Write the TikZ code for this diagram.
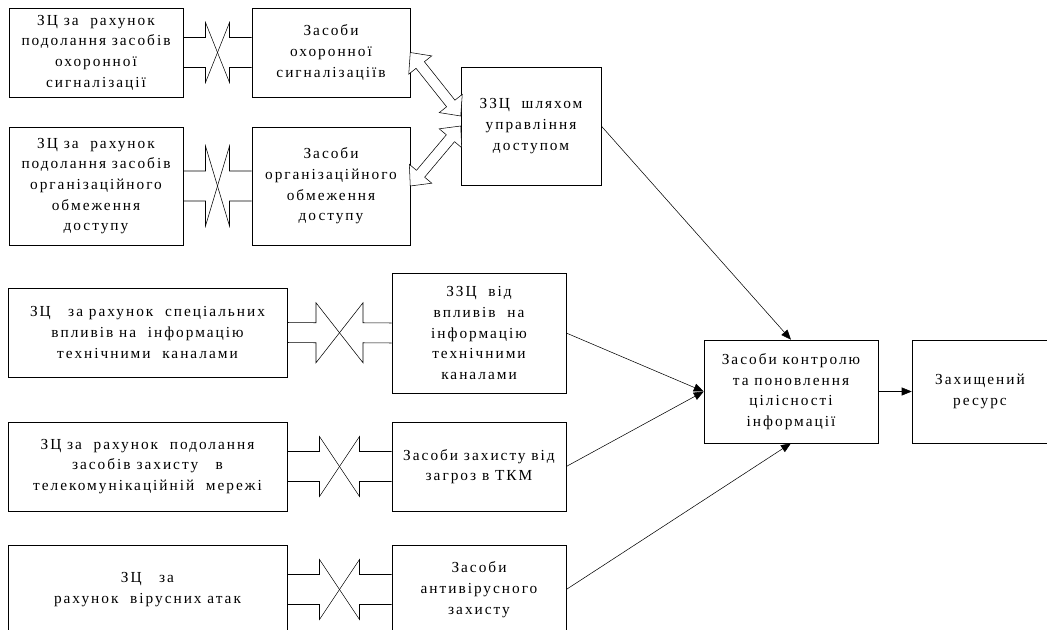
\documentclass[tikz,border=0pt]{standalone}
\usepackage{fontspec}
\setmainfont{Liberation Serif}[LetterSpace=13]
\usepackage{tikz}
\usetikzlibrary{shapes.geometric, arrows.meta, positioning, calc}

% crossed block arrows: left node, right node, half width, shaft, head
\newcommand{\crossarrow}[5]{%
  \coordinate (cm) at ($(#1.east)!0.5!(#2.west)$);
  \draw ($(#1.east)+(0,-#4)$) -- ($(cm)+(-#3,-#4)$) -- ($(cm)+(-#3,-#5)$) -- ($(cm)+(#3,#5)$) -- ($(cm)+(#3,#4)$) -- ($(#2.west)+(0,#4)$);
  \draw ($(#1.east)+(0,#4)$) -- ($(cm)+(-#3,#4)$) -- ($(cm)+(-#3,#5)$) -- ($(cm)+(#3,-#5)$) -- ($(cm)+(#3,-#4)$) -- ($(#2.west)+(0,-#4)$);
}

% hollow double headed arrow between two points
\newcommand{\dualarrow}[2]{%
  \coordinate (da1) at ($(#1)!12pt!(#2)$);
  \coordinate (da2) at ($(#2)!12pt!(#1)$);
  \draw[hollow] (#1) -- ($(da1)!11pt!90:(#2)$) -- ($(da1)!4pt!90:(#2)$) -- ($(da2)!4pt!-90:(#1)$) -- ($(da2)!11pt!-90:(#1)$) -- (#2) -- ($(da2)!11pt!90:(#1)$) -- ($(da2)!4pt!90:(#1)$) -- ($(da1)!4pt!-90:(#2)$) -- ($(da1)!11pt!-90:(#2)$) -- cycle;
}

\begin{document}
\begin{tikzpicture}[x=0.75pt, y=-0.75pt]
\tikzstyle{box} = [rectangle, draw=black, align=center, inner sep=0pt, font=\fontsize{11.5}{15.5}\selectfont]
\tikzstyle{arrow} = [-{Triangle[length=7.5pt,width=6pt]}]
\tikzstyle{hollow} = [draw=black, fill=white, line join=miter]

\useasboundingbox (0,0) rectangle (1047,629);
\clip (0,0) rectangle (1047,629);

% Access control
\node[box, minimum width=130.5pt, minimum height=66.75pt] (breakalarm) at (96,52.5) {ЗЦ за~ рахунок\\подолання засобів\\охоронної\\сигналізації};
\node[box, minimum width=118.5pt, minimum height=66.75pt] (alarm) at (331,52.5) {Засоби\\охоронної\\сигналізаціїв};
\node[box, minimum width=130.5pt, minimum height=88.5pt] (breakorg) at (96,186) {ЗЦ за~ рахунок\\подолання засобів\\організаційного\\обмеження\\доступу};
\node[box, minimum width=118.5pt, minimum height=88.5pt] (orgaccess) at (331,186) {Засоби\\організаційного\\обмеження\\доступу};
\node[box, minimum width=105pt, minimum height=88.5pt] (accessctl) at (531,126) {ЗЗЦ~ шляхом\\управління\\доступом};

% Other threats
\node[box, minimum width=209.25pt, minimum height=66.75pt] (breakleak) at (147.5,332.5) {ЗЦ~~ за рахунок~ спеціальних\\впливів на~ інформацію\\технічними~ каналами};
\node[box, minimum width=130.5pt, minimum height=90pt] (leakprot) at (479,333) {ЗЗЦ~ від\\впливів~ на\\інформацію\\технічними\\каналами};
\node[box, minimum width=209.25pt, minimum height=66.75pt] (breaknet) at (147.5,466.5) {ЗЦ за~ рахунок~ подолання\\засобів захисту~~ в\\телекомунікаційній~ мережі};
\node[box, minimum width=130.5pt, minimum height=66.75pt] (netprot) at (479,466.5) {Засоби захисту від\\загроз в ТКМ};
\node[box, minimum width=209.25pt, minimum height=66.75pt] (breakvirus) at (147.5,589.5) {ЗЦ~~ за\\рахунок~ вірусних атак};
\node[box, minimum width=130.5pt, minimum height=66.75pt] (antivirus) at (479,589.5) {Засоби\\антивірусного\\захисту};

% Result
\node[box, minimum width=130.5pt, minimum height=77.25pt] (integrity) at (791,391.5) {Засоби контролю\\та поновлення\\цілісності\\інформації};
\node[box, minimum width=102pt, minimum height=77.25pt] (resource) at (980,391.5) {Захищений\\ресурс};

% Crossed arrows
\crossarrow{breakalarm}{alarm}{12}{15}{30}
\crossarrow{breakorg}{orgaccess}{12}{15}{40}
\crossarrow{breakleak}{leakprot}{23.5}{10}{30}
\crossarrow{breaknet}{netprot}{20}{15}{30}
\crossarrow{breakvirus}{antivirus}{20}{15}{30}

% Double arrows
\coordinate (accessin) at ($(accessctl.west)+(0,-10)$);
\dualarrow{alarm.east}{accessin}
\dualarrow{orgaccess.east}{accessctl.west}

% Connections
\draw[arrow] (accessctl.east) -- (integrity.north);
\draw[arrow] (leakprot.east) -- (integrity.west);
\draw[arrow] (netprot.east) -- (integrity.west);
\draw[arrow] (antivirus.east) -- (integrity.south);
\draw[arrow] (integrity.east) -- (resource.west);
\end{tikzpicture}
\end{document}
